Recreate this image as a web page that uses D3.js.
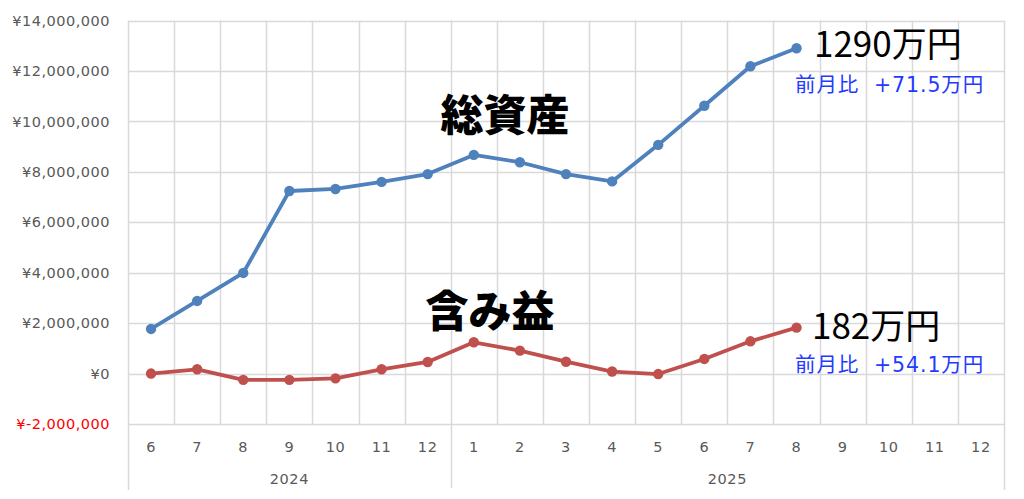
<!DOCTYPE html>
<html><head><meta charset="utf-8">
<script src="https://cdn.jsdelivr.net/npm/d3@7/dist/d3.min.js"></script>
<style>
html,body{margin:0;padding:0;background:#fff;}
svg{display:block;}
</style>
</head><body>
<svg id="c" width="1024" height="499"></svg>
<script>
const years = ["2024","2025"];
const months = [6,7,8,9,10,11,12,1,2,3,4,5,6,7,8,9,10,11,12];
const monthYear = [0,0,0,0,0,0,0,1,1,1,1,1,1,1,1,1,1,1,1];
const totalAssets = [1770000,2880000,3990000,7240000,7320000,7600000,7910000,8670000,8380000,7910000,7620000,9070000,10620000,12185000,12900000];
const unrealizedGain = [0,170000,-250000,-250000,-190000,170000,460000,1240000,910000,470000,80000,-20000,580000,1279000,1820000];
const yTicks = [-2000000,0,2000000,4000000,6000000,8000000,10000000,12000000,14000000];
const seriesLabels = ["総資産","含み益"];
const endLabels = ["1290万円","182万円"];
const diffLabels = ["前月比  +71.5万円","前月比  +54.1万円"];

const svg = d3.select("#c");
const L = 128, R = 1004, T = 20.5, B = 424;
const x = d3.scaleBand().domain(d3.range(months.length)).range([L, R]).paddingInner(0).paddingOuter(0);
const y = d3.scaleLinear().domain([-2000000, 14000000]).range([B, T]);
const grid = "#d9d9d9";

// horizontal gridlines
svg.append("g").selectAll("line").data(yTicks).join("line")
  .attr("x1", L).attr("x2", R)
  .attr("y1", d => Math.round(y(d)) + 0.5).attr("y2", d => Math.round(y(d)) + 0.5)
  .attr("stroke", grid).attr("stroke-width", 1.5);

// vertical gridlines
const bounds = d3.range(months.length + 1).map(i => i < months.length ? x(i) : R);
svg.append("g").selectAll("line").data(bounds).join("line")
  .attr("x1", d => Math.round(d) + 0.5).attr("x2", d => Math.round(d) + 0.5)
  .attr("y1", T).attr("y2", (d, i) => (i === 0 || i === months.length) ? 490 : B)
  .attr("stroke", grid).attr("stroke-width", 1.5);

// year divider
const yearStart = years.map((yr, k) => monthYear.indexOf(k));
yearStart.slice(1).forEach(i => {
  svg.append("line").attr("x1", Math.round(x(i)) + 0.5).attr("x2", Math.round(x(i)) + 0.5)
    .attr("y1", B).attr("y2", 488).attr("stroke", grid).attr("stroke-width", 1.5);
});

const latin = "DejaVu Sans, Verdana, sans-serif";
// y tick labels
const fmt = d => "¥" + d3.format(",")(d).replace("−", "-");
svg.append("g").selectAll("text").data(yTicks).join("text")
  .attr("x", 110).attr("y", d => y(d)).attr("dy", "0.36em")
  .attr("text-anchor", "end")
  .attr("font-family", latin).attr("font-size", 14.5)
  .attr("letter-spacing", 0.5)
  .attr("fill", d => d < 0 ? "#ff0000" : "#595959")
  .text(fmt);

// month labels
svg.append("g").selectAll("text").data(months).join("text")
  .attr("x", (d, i) => x(i) + x.bandwidth() / 2).attr("y", 447).attr("dy", "0.36em")
  .attr("text-anchor", "middle")
  .attr("font-family", latin).attr("font-size", 14.5)
  .attr("letter-spacing", 0.6)
  .attr("fill", "#595959").text(d => d);

// year labels
years.forEach((yr, k) => {
  const idx = d3.range(months.length).filter(i => monthYear[i] === k);
  const x0 = x(idx[0]), x1 = x(idx[idx.length - 1]) + x.bandwidth();
  svg.append("text").attr("x", (x0 + x1) / 2).attr("y", 479).attr("dy", "0.36em")
    .attr("text-anchor", "middle")
    .attr("font-family", latin).attr("font-size", 14.5)
    .attr("letter-spacing", 0.6)
    .attr("fill", "#595959").text(yr);
});

// series
const series = [
  {vals: totalAssets, color: "#4f81bd"},
  {vals: unrealizedGain, color: "#c0504d"}
];
const line = d3.line().x((d, i) => x(i) + x.bandwidth() / 2).y(d => y(d));
series.forEach(s => {
  svg.append("path").datum(s.vals).attr("d", line)
    .attr("fill", "none").attr("stroke", s.color).attr("stroke-width", 3.8)
    .attr("stroke-linejoin", "round").attr("stroke-linecap", "round");
  svg.append("g").selectAll("circle").data(s.vals).join("circle")
    .attr("cx", (d, i) => x(i) + x.bandwidth() / 2).attr("cy", d => y(d))
    .attr("r", 5.2).attr("fill", s.color);
});

// series titles
const cjk = "'Noto Sans CJK JP', sans-serif";
svg.append("text").attr("x", 505).attr("y", 131).attr("text-anchor", "middle")
  .attr("font-family", cjk).attr("font-weight", 900).attr("font-size", 43)
  .attr("fill", "#000").text(seriesLabels[0]);
svg.append("text").attr("x", 490).attr("y", 327).attr("text-anchor", "middle")
  .attr("font-family", cjk).attr("font-weight", 900).attr("font-size", 43)
  .attr("fill", "#000").text(seriesLabels[1]);

// end labels
const mixed = "DejaVu Sans, 'Noto Sans CJK JP', sans-serif";
svg.append("text").attr("x", 814).attr("y", 57)
  .attr("font-family", cjk).attr("font-size", 35).attr("fill", "#000").text(endLabels[0]);
svg.append("text").attr("x", 795).attr("y", 92).style("white-space", "pre")
  .attr("font-family", mixed).attr("font-size", 20.5).attr("letter-spacing", 0.9)
  .attr("fill", "#1f3bff").text(diffLabels[0]);
svg.append("text").attr("x", 812).attr("y", 339)
  .attr("font-family", cjk).attr("font-size", 35).attr("fill", "#000").text(endLabels[1]);
svg.append("text").attr("x", 795).attr("y", 372).style("white-space", "pre")
  .attr("font-family", mixed).attr("font-size", 20.5).attr("letter-spacing", 0.9)
  .attr("fill", "#1f3bff").text(diffLabels[1]);
</script>
</body></html>
